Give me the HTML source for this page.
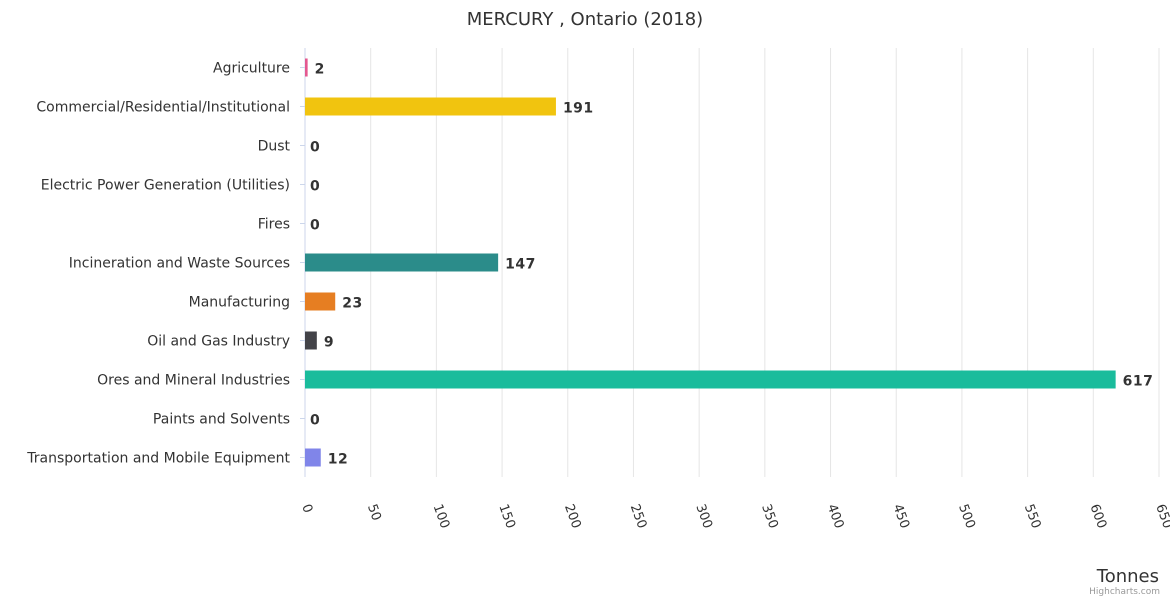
<!DOCTYPE html>
<html><head><meta charset="utf-8"><style>
body{margin:0;background:#fff}
svg text{font-family:"DejaVu Sans","Liberation Sans",sans-serif}
</style></head><body>
<svg id="c" width="1170" height="600" xmlns="http://www.w3.org/2000/svg">
<text x="585" y="25" text-anchor="middle" font-size="18" fill="#333">MERCURY , Ontario (2018)</text>
<g id="grid"></g><g id="bars"></g><g id="cats"></g><g id="ticks"></g>
<text x="1159" y="582" text-anchor="end" font-size="18" fill="#333">Tonnes</text>
<text x="1160" y="594" text-anchor="end" font-size="9" fill="#999">Highcharts.com</text>
</svg>
<script>
const categories=["Agriculture","Commercial/Residential/Institutional","Dust","Electric Power Generation (Utilities)","Fires","Incineration and Waste Sources","Manufacturing","Oil and Gas Industry","Ores and Mineral Industries","Paints and Solvents","Transportation and Mobile Equipment"];
const values=[2,191,0,0,0,147,23,9,617,0,12];
const colors=["#e4588f","#f1c40f","#2b908f","#434348","#7cb5ec","#2b8c8a","#e67e22","#434348","#1abc9c","#8085e9","#8085e9"];
const tickValues=[0,50,100,150,200,250,300,350,400,450,500,550,600,650];
const NS="http://www.w3.org/2000/svg";
const x0=305,x1=1159,yTop=48,step=39;
const xs=v=>x0+(v/650)*(x1-x0);
const yc=i=>yTop+step/2+i*step;
function mk(t,a,p){const e=document.createElementNS(NS,t);for(const k in a)e.setAttribute(k,a[k]);document.getElementById(p).appendChild(e);return e;}
tickValues.forEach(v=>{
 const l=mk('line',{x1:xs(v),x2:xs(v),y1:yTop,y2:yTop+step*categories.length,stroke:v===0?'#ccd6eb':'#e6e6e6'},'grid');
 
 
 const X=xs(v)-3,Y=506;
 const t=mk('text',{x:X,y:Y,'font-size':13,fill:'#333',transform:`rotate(70 ${X} ${Y})`},'ticks');
 t.textContent=v;
 
 
});
categories.forEach((c,i)=>{
 const y=yc(i);
 const tk=mk('line',{x1:x0-5,x2:x0,y1:y,y2:y,stroke:'#ccd6eb'},'grid');
 
 
 const t=mk('text',{x:290,y:y+5,'text-anchor':'end','font-size':14,fill:'#333'},'cats');
 t.textContent=c;
 
 
 const w=xs(values[i])-x0;
 const b=mk('rect',{x:x0,y:y-9,width:Math.max(w,0),height:18,fill:colors[i]},'bars');
 
 
 const d=mk('text',{x:x0+w+(values[i]>0?7:5),y:y+6,'font-size':14,'font-weight':'bold',fill:'#333','letter-spacing':'0.5'},'bars');
 d.textContent=values[i];
 
 
});
</script>
</body></html>
